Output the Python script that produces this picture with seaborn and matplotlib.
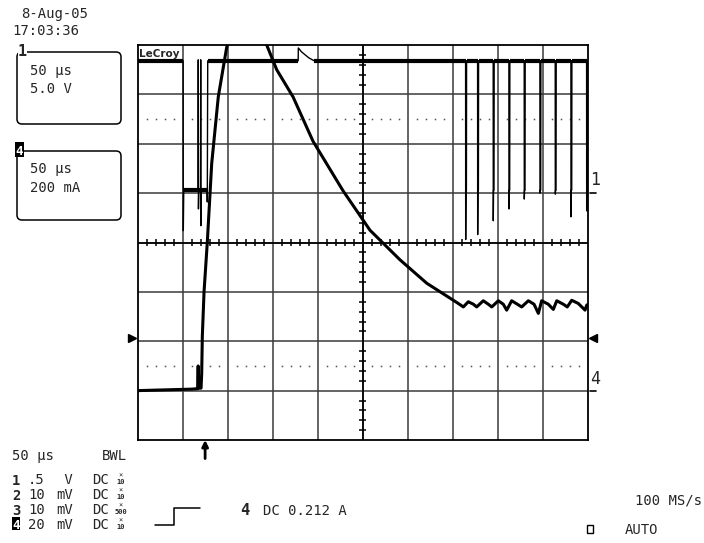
import matplotlib
matplotlib.use("Agg")
import matplotlib.pyplot as plt
import seaborn as sns
from matplotlib.patches import FancyBboxPatch, Rectangle

time_per_div = 50          # us
ch1_volts_per_div = 5.0    # V
ch4_amps_per_div = 0.2     # A
ch1_ground_div = 1         # divisions above centre
ch4_ground_div = -3
trigger_time = 75          # us from left edge
trigger_level = 0.212      # A

# channel 1 (gate drive, V)
ch1_t = [0, 50.6, 50.8, 51.3, 67.2, 67.4, 67.6, 68.0, 69.9, 70.1, 70.3, 70.7,
         77.2, 77.4, 77.9, 120, 178.2, 178.4, 182, 186, 190, 194, 196]
ch1_v = [13.4, 13.4, -3.8, 0.3, 0.3, 13.5, -1.6, 0.3, 0.3, 13.5, -3.3, 0.3,
         0.3, -0.9, 13.4, 13.4, 13.4, 14.7, 14.3, 14.0, 13.7, 13.5, 13.4]
# narrow low pulses at the right side: start time and undershoot
pulse_t = [364.0, 377.3, 394.6, 412.0, 429.0, 446.4, 463.4, 480.8, 498.2]
pulse_min = [-4.7, -4.2, -2.8, -1.6, -0.6, 0.0, -0.1, -2.4, -1.8]
ch1_high = 13.4
ch1_low = 0.3

# channel 4 (current, A)
ch4_t = [0, 30, 60, 66.8, 67.3, 67.6, 70.5, 71.2, 71.9, 73.8, 77.4, 82.3,
         89.6, 98.9, 112, 125, 135, 143.3, 154.4, 172.5, 194.7, 227.9, 257.8,
         291.1, 320.8, 350.3, 355.8, 361.4, 366.9, 372.5, 376.2, 383.5, 389.1,
         392.9, 400.2, 405.7, 409.5, 415.0, 421.3, 426.1, 433.5, 439.8, 444.6,
         448.3, 455.6, 461.2, 465.0, 472.3, 476.7, 481.6, 488.9, 496.4, 498.2,
         500]
ch4_a = [0.0, 0.003, 0.006, 0.008, 0.10, 0.01, 0.01, 0.07, 0.22, 0.40, 0.60,
         0.92, 1.19, 1.39, 1.56, 1.61, 1.53, 1.40, 1.30, 1.19, 1.01, 0.81,
         0.65, 0.53, 0.435, 0.366, 0.353, 0.339, 0.360, 0.350, 0.339, 0.364,
         0.350, 0.339, 0.364, 0.350, 0.326, 0.364, 0.350, 0.339, 0.364, 0.350,
         0.313, 0.364, 0.350, 0.329, 0.364, 0.350, 0.339, 0.366, 0.353, 0.326,
         0.346, 0.35]

# build ch1 with the pulses appended; flat parts get a thicker noise band
t1 = list(ch1_t)
v1 = list(ch1_v)
v1_flat = [v if v in (ch1_high, ch1_low) else float('nan') for v in ch1_v]
for t, m in zip(pulse_t, pulse_min):
    t1 += [t - 0.1, t, t + 0.3, t + 0.8, t + 1.0]
    v1 += [ch1_high, m, ch1_low, ch1_low, ch1_high]
    v1_flat += [ch1_high] + [float('nan')] * 3 + [ch1_high]
t1.append(500)
v1.append(ch1_high)
v1_flat.append(ch1_high)

sns.set_theme(style="white")
plt.rcParams['font.family'] = ['DejaVu Sans Mono', 'DejaVu Sans']

W, H = 704, 543
fig = plt.figure(figsize=(W / 100, H / 100), dpi=100)
x0, x1, y0, y1 = 137.5, 588.3, 45, 440
ax = fig.add_axes([x0 / W, 1 - y1 / H, (x1 - x0) / W, (y1 - y0) / H])
ax.set_xlim(0, 10 * time_per_div)
ax.set_ylim(-4, 4)
ax.set_xticks([])
ax.set_yticks([])
for s in ax.spines.values():
    s.set_color('black')
    s.set_linewidth(1.3)

# graticule
for k in range(1, 10):
    ax.axvline(k * time_per_div, color='#3a3a3a', lw=1.1, zorder=1)
for k in range(-3, 4):
    ax.axhline(k, color='#3a3a3a', lw=1.1, zorder=1)
ax.axhline(0, color='black', lw=1.2, zorder=1)
ax.axvline(5 * time_per_div, color='black', lw=1.2, zorder=1)
minor_x = [k * 10 for k in range(1, 50) if k % 5]
minor_y = [k * 0.2 for k in range(-19, 20) if k % 5]
ax.vlines(minor_x, -0.065, 0.065, color='black', lw=1.1, zorder=1)
ax.hlines(minor_y, 250 - 3.9, 250 + 3.9, color='black', lw=1.1, zorder=1)
for yd in (2.5, -2.5):
    ax.plot(minor_x, [yd] * len(minor_x), ls='none', marker='s', ms=1.1,
            mew=0, color='#555555', zorder=1)

# channel axes
ax1 = ax.twinx()
ax1.set_ylim((-4 - ch1_ground_div) * ch1_volts_per_div,
             (4 - ch1_ground_div) * ch1_volts_per_div)
ax1.set_axis_off()
ax4 = ax.twinx()
ax4.set_ylim((-4 - ch4_ground_div) * ch4_amps_per_div,
             (4 - ch4_ground_div) * ch4_amps_per_div)
ax4.set_axis_off()

sns.lineplot(x=t1, y=v1, ax=ax1, estimator=None, sort=False,
             color='black', lw=1.0)
ax1.plot(t1, v1_flat, color='black', lw=3.0, solid_capstyle='butt')
sns.lineplot(x=ch4_t, y=ch4_a, ax=ax4, estimator=None, sort=False,
             color='black', lw=2.2)

# ground / trigger markers
tr4 = ax4.get_yaxis_transform()
tr1 = ax1.get_yaxis_transform()
ax4.plot([-0.012], [trigger_level], marker='>', ms=6, color='black',
         transform=tr4, clip_on=False)
ax4.plot([1.011], [trigger_level], marker='<', ms=6, color='black',
         transform=tr4, clip_on=False)
ax1.plot([1.003, 1.018], [0, 0], color='black', lw=1.2, transform=tr1,
         clip_on=False)
ax1.text(1.005, 0.4, '1', transform=tr1, fontsize=12, va='bottom',
         ha='left')
ax4.plot([1.003, 1.018], [0, 0], color='black', lw=1.2, transform=tr4,
         clip_on=False)
ax4.text(1.005, 0.01, '4', transform=tr4, fontsize=12, va='bottom',
         ha='left')
ax.annotate('', xy=(trigger_time, 0.0), xytext=(trigger_time, -0.047),
            xycoords=ax.get_xaxis_transform(),
            arrowprops=dict(arrowstyle='-|>', lw=2, color='black',
                            mutation_scale=9, shrinkA=0, shrinkB=0),
            annotation_clip=False)

# screen text overlay in pixel coordinates
ov = fig.add_axes([0, 0, 1, 1], zorder=5)
ov.set_xlim(0, W)
ov.set_ylim(H, 0)
ov.set_axis_off()

fs = 10
ov.text(21, 18, '8-Aug-05', fontsize=fs, va='baseline')
ov.text(12, 35, '17:03:36', fontsize=fs, va='baseline')

ov.add_patch(FancyBboxPatch((17, 52), 104, 72, boxstyle='round,pad=0,rounding_size=5',
                            fill=False, ec='black', lw=1.1))
ov.add_patch(Rectangle((18, 44), 9, 14, fc='white', ec='none', zorder=3))
ov.text(22.5, 56, '1', fontsize=11, fontweight='bold', va='baseline',
        ha='center', zorder=4)
ov.text(30, 75, '50 µs', fontsize=fs, va='baseline')
ov.text(30, 93, '5.0 V', fontsize=fs, va='baseline')

ov.add_patch(FancyBboxPatch((17, 151), 104, 69, boxstyle='round,pad=0,rounding_size=5',
                            fill=False, ec='black', lw=1.1))
ov.add_patch(Rectangle((15, 142), 9, 15, fc='black', ec='none', zorder=3))
ov.text(19.5, 155, '4', fontsize=9, fontweight='bold', color='white',
        va='baseline', ha='center', zorder=4)
ov.text(30, 173, '50 µs', fontsize=fs, va='baseline')
ov.text(30, 192, '200 mA', fontsize=fs, va='baseline')

ov.text(139, 57, 'LeCroy', fontsize=7.5, fontweight='bold',
        family='DejaVu Sans', va='baseline')

# bottom status lines
ov.text(12, 460, '50 µs', fontsize=fs, va='baseline')
ov.text(102, 460, 'BWL', fontsize=fs, va='baseline')
rows = [('1', '.5', ' V', '10'), ('2', '10', 'mV', '10'),
        ('3', '10', 'mV', '500'), ('4', '20', 'mV', '10')]
for i, (ch, val, unit, probe) in enumerate(rows):
    yb = 484 + 15 * i
    if ch == '4':
        ov.add_patch(Rectangle((12, yb - 12), 8, 13, fc='black', ec='none'))
        ov.text(16, yb, ch, fontsize=9, fontweight='bold', color='white',
                va='baseline', ha='center')
    else:
        ov.text(16, yb + 1, ch, fontsize=10, fontweight='bold',
                va='baseline', ha='center')
    ov.text(28, yb, val, fontsize=fs, va='baseline')
    ov.text(56, yb, unit, fontsize=fs, va='baseline')
    ov.text(92, yb, 'DC', fontsize=fs, va='baseline')
    ov.text(121, yb - 6, '×', fontsize=5, va='baseline', ha='center')
    ov.text(121, yb, probe, fontsize=5, fontweight='bold', va='baseline',
            ha='center')

ov.plot([155, 174, 174, 200], [525, 525, 508, 508], color='black', lw=1.1)
ov.text(240, 515, '4', fontsize=11, fontweight='bold', va='baseline')
ov.text(263, 515, 'DC 0.212 A', fontsize=fs, va='baseline')
ov.text(635, 505, '100 MS/s', fontsize=fs, va='baseline')
ov.add_patch(Rectangle((587, 525), 6, 8, fill=False, ec='black', lw=1))
ov.text(625, 534, 'AUTO', fontsize=fs, va='baseline')

fig.savefig('out.png', dpi=100)
